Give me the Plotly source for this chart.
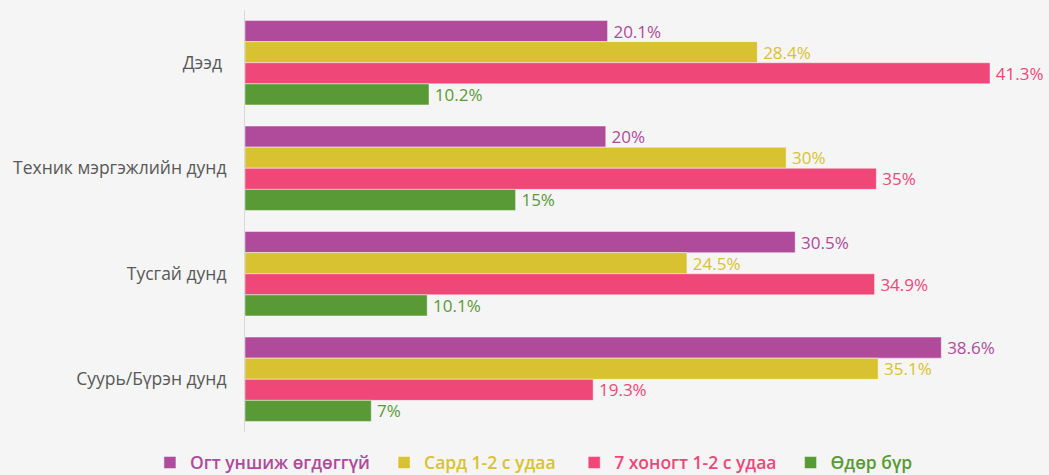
import plotly.graph_objects as go

categories = ["Дээд", "Техник мэргэжлийн дунд", "Тусгай дунд", "Суурь/Бүрэн дунд"]
tick_labels = ["Дээд\u00a0", "Техник мэргэжлийн дунд", "Тусгай дунд", "Суурь/Бүрэн дунд"]
series_names = ["Огт уншиж өгдөггүй", "Сард 1-2 с удаа", "7 хоногт 1-2 с удаа", "Өдөр бүр"]
legend_pad = [2, 3, 2, 0]
never = [20.1, 20, 30.5, 38.6]
monthly = [28.4, 30, 24.5, 35.1]
weekly = [41.3, 35, 34.9, 19.3]
daily = [10.2, 15, 10.1, 7]
colors = ["#b04a9b", "#d9c231", "#ef4778", "#5a9a36"]

values = [never, monthly, weekly, daily]

fig = go.Figure()
for name, vals, col, pad in zip(series_names, values, colors, legend_pad):
    fig.add_trace(go.Bar(
        y=categories, x=vals, orientation="h",
        name=f"<span style='color:{col}'>{name}{'&nbsp;' * pad}</span>",
        marker=dict(color=col, line=dict(color="rgba(255,255,255,0.45)", width=1)),
        text=[f"\u2009{v:g}%" for v in vals], textposition="outside",
        constraintext="none",
        textfont=dict(color=col, size=17, family="Open Sans", weight=500),
        cliponaxis=False,
    ))

fig.update_layout(
    width=1049, height=475,
    barmode="group", bargap=0.2, bargroupgap=0,
    paper_bgcolor="#f5f5f5", plot_bgcolor="#f5f5f5",
    margin=dict(l=245, r=0, t=10, b=43),
    font=dict(family="Open Sans", size=17, color="#555555"),
    xaxis=dict(range=[0, 44.57], visible=False, showgrid=False, zeroline=False),
    yaxis=dict(autorange="reversed", showline=True, linecolor="#d9d9d9", linewidth=1,
               showgrid=False, ticks="", ticklabelstandoff=14,
               tickmode="array", tickvals=categories, ticktext=tick_labels,
               tickfont=dict(size=17.5, color="#595959", family="Open Sans")),
    legend=dict(orientation="h", xref="container", yref="container",
                x=0.509, xanchor="center", y=0.026, yanchor="middle",
                font=dict(size=17.5, family="Open Sans", weight=600),
                traceorder="normal"),
    showlegend=True,
)

fig.write_html("out.html", config={"displayModeBar": False},
               post_script="document.body.style.margin='0';document.body.style.background='#f5f5f5';")
